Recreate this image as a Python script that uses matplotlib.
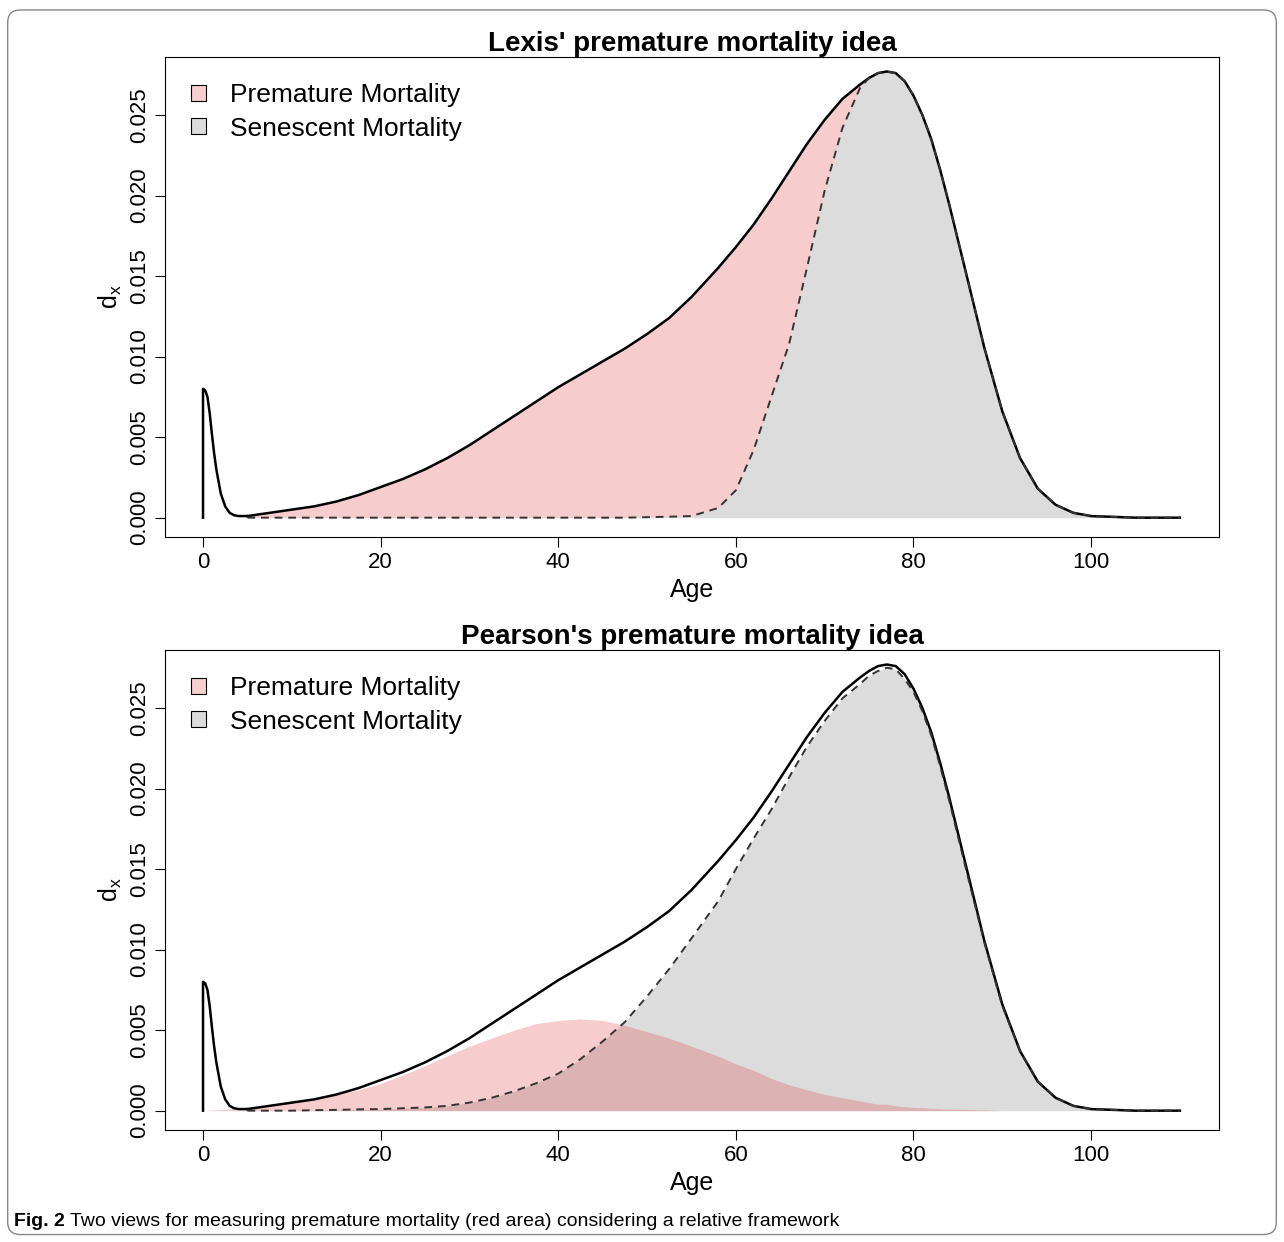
import numpy as np
import matplotlib.pyplot as plt
from matplotlib.patches import FancyBboxPatch, Rectangle

plt.rcParams['font.family'] = ['Liberation Sans', 'DejaVu Sans']

# infant part of the dx curve
ages_inf = [0, 0, 0.25, 0.5, 0.75, 1, 1.25, 1.5, 2, 2.5, 3, 3.5, 4, 5]
dx_inf = [0, 0.008, 0.0079, 0.0075, 0.0065, 0.0052, 0.004, 0.003, 0.0015, 0.0007, 0.0003,
          0.00015, 0.0001, 0.0001]

ages = [5, 7.5, 10, 12.5, 15, 17.5, 20, 22.5, 25, 27.5, 30, 32.5, 35, 37.5, 40, 42.5, 45, 47.5,
        50, 52.5, 55, 58, 60, 62, 64, 66, 68, 70, 72, 74, 75, 76, 77, 78, 79, 80, 81, 82, 83, 84,
        86, 88, 90, 92, 94, 96, 98, 100, 105, 110]
dx_total = [.0001, .0003, .0005, .0007, .001, .0014, .0019, .0024, .003, .0037, .0045, .0054,
            .0063, .0072, .0081, .0089, .0097, .0105, .0114, .0124, .0137, .0155, .0168, .0182,
            .0198, .0215, .0232, .0247, .026, .0269, .0273, .0276, .0277, .0276, .0271, .0262,
            .025, .0235, .0216, .0195, .015, .0105, .0066, .0037, .0018, .0008, .0003, .0001, 0, 0]
sen_lexis = [0, 0, 0, 0, 0, 0, 0, 0, 0, 0, 0, 0, 0, 0, 0, 0, 0, 0, .00003, .00006, .0001, .0006,
             .0017, .0042, .0075, .0108, .0155, .0203, .0242, .0267, .0273, .0276, .0277, .0276,
             .0271, .0262, .025, .0235, .0216, .0195, .015, .0105, .0066, .0037, .0018, .0008,
             .0003, .0001, 0, 0]
sen_pearson = [0, 0, 0, .00003, .00005, .00008, .0001, .00015, .0002, .0003, .0005, .0008, .0012,
               .0017, .0023, .0032, .0043, .0055, .0071, .0088, .0107, .013, .015, .0169, .0187,
               .0207, .0226, .0242, .0256, .0265, .027, .0273, .0275, .0274, .0268, .026, .0248,
               .0233, .0214, .0193, .0148, .0104, .0065, .0037, .0018, .0008, .0003, .0001, 0, 0]
prem_pearson = [.0002, .0003, .0005, .0007, .001, .0013, .0017, .0022, .0028, .0034, .004, .0045,
                .005, .0054, .0056, .0057, .0056, .0053, .0049, .0045, .004, .0034, .0029, .0025,
                .002, .0016, .0013, .001, .0008, .0006, .0005, .0004, .0004, .0003, .00025, .0002,
                .00018, .00015, .00012, .0001, .00008, .00005, 0, 0, 0, 0, 0, 0, 0, 0]

pink = (0.88, 0.24, 0.24, 0.26)
grey = '#dcdcdc'

fig = plt.figure(figsize=(12.84, 12.42), dpi=100)
fig.patches.append(FancyBboxPatch((0.006, 0.006), 0.988, 0.986, boxstyle='round,pad=0,rounding_size=0.01',
                                  transform=fig.transFigure, fill=False, ec='#888888', lw=1))
ax1 = fig.add_axes([165/1284, 1-537/1242, 1054/1284, 480/1242])
ax2 = fig.add_axes([165/1284, 1-1130/1242, 1054/1284, 480/1242])

def panel(ax, title, sen, prem):
    ax.fill_between(ages, 0, sen, color=grey, lw=0)
    if prem is None:
        ax.fill_between(ages, sen, dx_total, color=pink, lw=0)
    else:
        ax.fill_between([0] + ages, 0, [0] + prem, color=pink, lw=0)
    ax.plot(ages_inf, dx_inf, color='black', lw=1.8)
    ax.plot(ages, dx_total, color='black', lw=1.8)
    ax.plot(ages, sen, color='#333333', lw=1.4, ls=(0, (4, 3)))
    ax.set_xlim(-4.28, 114.4)
    ax.set_ylim(-0.0012, 0.0286)
    ax.set_xticks([0, 20, 40, 60, 80, 100])
    ax.set_yticks([0, .005, .01, .015, .02, .025])
    ax.set_yticklabels(['0.000', '0.005', '0.010', '0.015', '0.020', '0.025'], rotation=90, va='center')
    ax.tick_params(labelsize=16, length=7)
    ax.set_xlabel('Age', fontsize=18)
    ax.set_ylabel('d$_\\mathregular{x}$', fontsize=18)
    ax.set_title(title, fontsize=20, fontweight='bold', pad=3)
    handles = [Rectangle((0, 0), 1, 1, fc=(0.97, 0.81, 0.81), ec='black', lw=0.8),
               Rectangle((0, 0), 1, 1, fc=grey, ec='black', lw=0.8)]
    ax.legend(handles, ['Premature Mortality', 'Senescent Mortality'], loc='upper left', frameon=False,
              fontsize=19, handlelength=0.55, handleheight=0.55, handletextpad=0.9, borderaxespad=0.6,
              labelspacing=0.35)

panel(ax1, "Lexis' premature mortality idea", sen_lexis, None)
panel(ax2, "Pearson's premature mortality idea", sen_pearson, prem_pearson)

fig.text(14/1284, 1-1222/1242, 'Fig. 2', fontsize=14, fontweight='bold', va='center')
fig.text(70/1284, 1-1222/1242, 'Two views for measuring premature mortality (red area) considering a relative framework',
         fontsize=14, va='center')
fig.savefig('out.png', dpi=100)
